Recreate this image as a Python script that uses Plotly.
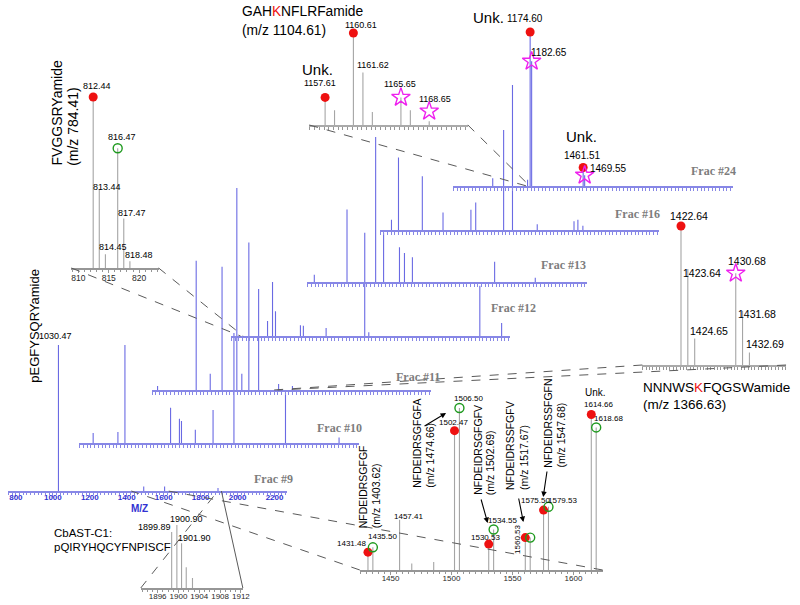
import plotly.graph_objects as go

W, H = 800, 605
OFF = 0
FW, FH = W - OFF, H - OFF

# ---------------- data: stacked spectra (m/z, relative intensity %) ----------------
frac9_mz = [1030.47, 1492, 1605, 1894]
frac9_int = [100, 3, 3, 2]
frac10_mz = [832, 966, 1004, 1251, 1299, 1310, 1385, 1481, 1594, 1873, 2163]
frac10_int = [9, 10, 89, 32, 22, 20, 12, 30, 100, 46, 5]
frac11_mz = [789, 998, 1074, 1138, 1218, 1245, 1283, 1336, 1444, 1519]
frac11_int = [2, 64, 8, 61, 100, 8, 73, 50, 3, 2]
frac12_mz = [955, 982, 998, 1133, 1149, 1272, 1481, 1503, 2104, 2222]
frac12_int = [28, 100, 46, 20, 19, 15, 98, 7, 93, 24]
frac13_mz = [795, 972, 1068, 1127, 1170, 1256, 1283, 1326, 1771, 1991]
frac13_int = [5, 50, 34, 100, 34, 24, 20, 17, 14, 3]
frac16_mz = [821, 859, 988, 1100, 1251, 1277, 1428, 1476, 1610, 1809, 1830, 1857]
frac16_int = [7, 50, 37, 12, 14, 19, 69, 100, 4, 6, 7, 3]
frac24_mz = [972, 1160.61, 1174.60, 1182.65, 1461.51, 1469.55]
frac24_int = [5, 4, 100, 81, 12, 7]
frac_names = ["Frac #9", "Frac #10", "Frac #11", "Frac #12", "Frac #13", "Frac #16", "Frac #24"]
frac_ticks = [800, 1000, 1200, 1400, 1600, 1800, 2000, 2200]

# ---------------- data: zoomed insets ----------------
fvgg_mz = [812.44, 813.44, 814.45, 816.47, 817.47, 818.48]
fvgg_int = [100, 46, 8, 70, 29, 4]
fvgg_red = [812.44]
fvgg_red_int = [100]
fvgg_green = [816.47]
fvgg_green_int = [70]

gah_mz = [1157.61, 1158.61, 1160.61, 1161.62, 1162.62, 1165.65, 1166.65, 1168.65]
gah_int = [30, 16, 100, 57, 14, 30, 16, 4]
gah_red = [1157.61, 1160.61]
gah_red_int = [30, 100]
gah_star = [1165.65, 1168.65]
gah_star_int = [30, 15]

f24_red = [1174.60, 1461.51]
f24_red_int = [100, 12]
f24_star = [1182.65, 1469.55]
f24_star_int = [81, 7]

nnn_mz = [1422.64, 1423.64, 1424.65, 1430.68, 1431.68, 1432.69]
nnn_int = [100, 69, 19, 66, 39, 9]
nnn_red = [1422.64]
nnn_red_int = [100]
nnn_star = [1430.68]
nnn_star_int = [66]

nfd_mz = [1431.48, 1435.50, 1457.41, 1467.4, 1485.4, 1502.47, 1506.50, 1530.53, 1534.55,
          1560.53, 1564.55, 1575.50, 1579.53, 1614.66, 1618.68]
nfd_int = [11, 14, 31, 4, 5, 86, 100, 16, 25, 20, 20, 37, 39, 96, 88]
nfd_red = [1431.48, 1502.47, 1530.53, 1560.53, 1575.50, 1614.66]
nfd_red_int = [11, 86, 16, 20, 37, 96]
nfd_green = [1435.50, 1506.50, 1534.55, 1564.55, 1579.53, 1618.68]
nfd_green_int = [14, 100, 25, 20, 39, 88]
nfd_ticks = [1450, 1500, 1550, 1600]

cb_mz = [1898.7, 1899.7, 1900.6, 1901.5, 1902.7]
cb_int = [89, 100, 71, 33, 16]
cb_ticks = [1896, 1900, 1904, 1908, 1912]
fvgg_ticks = [810, 815, 820]

# ---------------- layout geometry (reference pixels) ----------------
FR = (757, 2270)
PANELS = {
    "f9": (8, 290, 491, 345) + FR,
    "f10": (80, 362, 443, 333) + FR,
    "f11": (153, 435, 390, 188) + FR,
    "f12": (233, 515, 336, 282) + FR,
    "f13": (310, 592, 282, 137) + FR,
    "f16": (383, 665, 230, 85) + FR,
    "f24": (457, 739, 186, 32) + FR,
    "fvgg": (72, 160, 268, 97, 808.85, 823.2),
    "gah": (312, 472, 125, 33, 1155.93, 1172.75),
    "nnn": (648, 793, 365, 226, 1416.96, 1438.07),
    "nfd": (363, 608, 570, 408, 1424.8, 1624.0),
    "cb": (142, 245, 588, 525, 1892.76, 1912.38),
}
ORDER = list(PANELS.keys())
AX = {k: i + 1 for i, k in enumerate(ORDER)}

FONT = "Liberation Sans, Arial, sans-serif"
SPEC_BLUE = "rgba(80,80,222,0.85)"
AXIS_BLUE = "rgb(135,135,230)"
GRAY_SPEC = "rgb(165,165,165)"
GRAY_AXIS = "rgb(150,150,150)"
RED = "#ee1111"
GREEN = "#1f9a1f"
MAGENTA = "#ee22ee"


def xr(k):
    i = AX[k]
    return "x" if i == 1 else f"x{i}"


def yr(k):
    i = AX[k]
    return "y" if i == 1 else f"y{i}"


def to_px(k, mz, val=0.0):
    xl, xrt, yb, yt, lo, hi = PANELS[k]
    return xl + (mz - lo) / (hi - lo) * (xrt - xl), yb - val / 100.0 * (yb - yt)


def px2paper(x, y):
    return (x - OFF) / FW, 1 - (y - OFF) / FH


def sticks(mz, inten):
    xs, ys = [], []
    for m, v in zip(mz, inten):
        xs += [m, m, None]
        ys += [0, v, None]
    return xs, ys


fig = go.Figure()
layout_axes = {}
for k in ORDER:
    xl, xrt, yb, yt, lo, hi = PANELS[k]
    i = AX[k]
    xname = "xaxis" if i == 1 else f"xaxis{i}"
    yname = "yaxis" if i == 1 else f"yaxis{i}"
    frac = k.startswith("f") and k[1:].isdigit()
    (dx0, dyb), (dx1, dyt) = px2paper(xl, yb), px2paper(xrt, yt)
    xa = dict(domain=[dx0, dx1], range=[lo, hi], anchor=yr(k), showgrid=False,
              zeroline=False, showline=True, ticks="outside", fixedrange=True,
              linecolor=AXIS_BLUE if frac else GRAY_AXIS,
              tickcolor=AXIS_BLUE if frac else GRAY_AXIS,
              linewidth=1.6, ticklen=3, showticklabels=False)
    if frac:
        xa.update(tickmode="linear", tick0=0, dtick=20)
    layout_axes[xname] = xa
    layout_axes[yname] = dict(domain=[dyb, dyt], range=[0, 100], anchor=xr(k),
                              visible=False, fixedrange=True)

# special tick labels
layout_axes["xaxis"].update(tickmode="array", tickvals=frac_ticks, ticklen=4, showticklabels=True,
                            ticklabelstandoff=-6,
                            tickfont=dict(family=FONT, size=8, color="rgb(50,50,210)", weight="bold"),
                            minor=dict(tickmode="linear", tick0=0, dtick=20, ticks="outside",
                                       ticklen=2.5, tickcolor=AXIS_BLUE))
for k, tv, minor_dt, fs, so in [("fvgg", fvgg_ticks, 1, 8.5, -2), ("nfd", nfd_ticks, 5, 8, -3),
                                ("cb", cb_ticks, 1, 8, -3)]:
    layout_axes["xaxis" + str(AX[k])].update(
        tickmode="array", tickvals=tv, showticklabels=True, ticklen=3, ticklabelstandoff=so,
        tickfont=dict(family=FONT, size=fs, color="rgb(40,40,40)"),
        minor=dict(tickmode="linear", tick0=0, dtick=minor_dt, ticks="outside", ticklen=2,
                   tickcolor=GRAY_AXIS))
for k in ["gah", "nnn"]:
    layout_axes["xaxis" + str(AX[k])].update(tickmode="linear", tick0=0, dtick=0.5,
                                             linewidth=2.4, linecolor="rgb(170,170,170)")

# ---------------- spectra traces ----------------
spectra = [("f9", frac9_mz, frac9_int), ("f10", frac10_mz, frac10_int), ("f11", frac11_mz, frac11_int),
           ("f12", frac12_mz, frac12_int), ("f13", frac13_mz, frac13_int), ("f16", frac16_mz, frac16_int),
           ("f24", frac24_mz, frac24_int)]
for k, mz, it in spectra:
    xs, ys = sticks(mz, it)
    fig.add_trace(go.Scatter(x=xs, y=ys, xaxis=xr(k), yaxis=yr(k), mode="lines",
                             line=dict(color=SPEC_BLUE, width=1.1), hoverinfo="skip"))

insets = [("fvgg", fvgg_mz, fvgg_int), ("gah", gah_mz, gah_int), ("nnn", nnn_mz, nnn_int),
          ("nfd", nfd_mz, nfd_int), ("cb", cb_mz, cb_int)]
for k, mz, it in insets:
    xs, ys = sticks(mz, it)
    fig.add_trace(go.Scatter(x=xs, y=ys, xaxis=xr(k), yaxis=yr(k), mode="lines",
                             line=dict(color=GRAY_SPEC, width=1.1), hoverinfo="skip"))


def markers(k, mz, it, kind):
    if kind == "red":
        mk = dict(symbol="circle", size=9, color=RED, line=dict(width=0))
    elif kind == "green":
        mk = dict(symbol="circle-open", size=9, color=GREEN, line=dict(width=1.4, color=GREEN))
    else:
        mk = dict(symbol="star-open", size=14, color=MAGENTA, line=dict(width=1.4, color=MAGENTA))
    fig.add_trace(go.Scatter(x=mz, y=it, xaxis=xr(k), yaxis=yr(k), mode="markers", marker=mk,
                             cliponaxis=False, hoverinfo="skip"))


markers("fvgg", fvgg_red, fvgg_red_int, "red")
markers("fvgg", fvgg_green, fvgg_green_int, "green")
markers("gah", gah_red, gah_red_int, "red")
markers("gah", gah_star, gah_star_int, "star")
markers("f24", f24_red, f24_red_int, "red")
markers("f24", f24_star, f24_star_int, "star")
markers("nnn", nnn_red, nnn_red_int, "red")
markers("nnn", nnn_star, nnn_star_int, "star")
markers("nfd", nfd_red, nfd_red_int, "red")
markers("nfd", nfd_green, nfd_green_int, "green")

# ---------------- connector lines ----------------
shapes = []


def connector(k_inset, k_frac):
    xl, xrt, yb, yt, lo, hi = PANELS[k_inset]
    for mz_end in (lo, hi):
        x0, y0 = to_px(k_inset, mz_end)
        x1, y1 = to_px(k_frac, mz_end)
        a = px2paper(x0, y0)
        b = px2paper(x1, y1)
        d = "solid" if (k_inset == "cb" and mz_end == hi) else "dash"
        shapes.append(dict(type="line", xref="paper", yref="paper", x0=a[0], y0=a[1], x1=b[0], y1=b[1],
                           line=dict(color="rgb(90,90,90)", width=1, dash=d)))


connector("fvgg", "f12")
connector("gah", "f24")
connector("nnn", "f11")
connector("nfd", "f9")
connector("cb", "f9")

# ---------------- annotations ----------------
ann = []


def plabel(k, mz, val, text, dx, dy, size=9, angle=0, color="black"):
    ann.append(dict(xref=xr(k), yref=yr(k), x=mz, y=val, text=text, showarrow=False,
                    xshift=dx, yshift=dy, textangle=angle,
                    font=dict(family=FONT, size=size, color=color)))


def ptext(x, y, text, size, xanchor="center", yanchor="middle", angle=0, color="black", family=FONT,
          weight="normal"):
    px, py = px2paper(x, y)
    ann.append(dict(xref="paper", yref="paper", x=px, y=py, text=text, showarrow=False,
                    xanchor=xanchor, yanchor=yanchor, textangle=angle,
                    font=dict(family=family, size=size, color=color, weight=weight)))


# frac 9
plabel("f9", 1030.47, 100, "1030.47", -3, 9, 9)
# FVGG inset
for mz, v, dx, dy in [(812.44, 100, 4, 11), (813.44, 46, 8, 2), (814.45, 8, 8, 7),
                      (816.47, 70, 4, 11), (817.47, 29, 8, 5), (818.48, 4, 9, 6)]:
    plabel("fvgg", mz, v, f"{mz:.2f}", dx, dy, 9)
# GAH inset
plabel("gah", 1157.61, 30, "Unk.", -8, 28, 15)
for mz, v, dx, dy in [(1157.61, 30, -5, 14), (1160.61, 100, 8, 8), (1161.62, 57, 10, 8),
                      (1165.65, 30, -1, 13), (1168.65, 15, 6, 12)]:
    plabel("gah", mz, v, f"{mz:.2f}", dx, dy, 9)
# frac 24 labels
plabel("f24", 1174.60, 100, "1174.60", -5, 13, 10)
plabel("f24", 1174.60, 100, "Unk.", -42, 14, 15)
plabel("f24", 1182.65, 81, "1182.65", 17, 9, 10)
plabel("f24", 1461.51, 12, "Unk.", -2, 31, 15)
plabel("f24", 1461.51, 12, "1461.51", -1, 12, 10)
plabel("f24", 1469.55, 7, "1469.55", 24, 7, 10)
# NNN inset
for mz, v, dx, dy in [(1422.64, 100, 8, 10), (1423.64, 69, 14, -4), (1424.65, 19, 14, 8),
                      (1430.68, 66, 11, 12), (1431.68, 39, 14, -3), (1432.69, 9, 16, 8)]:
    plabel("nnn", mz, v, f"{mz:.2f}", dx, dy, 10.5)
# NFD inset
for mz, v, dx, dy in [(1431.48, 11, -16, 9), (1435.50, 14, 10, 11), (1457.41, 31, 9, 3),
                      (1502.47, 86, -1, 8), (1506.50, 100, 9, 9), (1530.53, 16, -3, 7),
                      (1534.55, 25, 9, 9), (1575.50, 37, -8, 10), (1579.53, 39, 14, 6),
                      (1614.66, 96, 7, 10), (1618.68, 88, 12, 9)]:
    plabel("nfd", mz, v, f"{mz:.2f}", dx, dy, 8)
plabel("nfd", 1560.53, 20, "1560.53", -8, -2, 8, angle=-90)
plabel("nfd", 1614.66, 96, "Unk.", 4, 22, 10)
# CbAST inset
plabel("cb", 1898.7, 89, "1899.89", -17, 5, 9)
plabel("cb", 1899.7, 100, "1900.90", 10, 6, 9)
plabel("cb", 1900.6, 71, "1901.90", 13, 5, 9)

# peptide names
K = '<span style="color:#ee1111">K</span>'
ptext(242, 12, f"GAH{K}NFLRFamide", 13.8, xanchor="left")
ptext(242, 30, "(m/z 1104.61)", 13.8, xanchor="left")
ptext(647, 387, f"NNNWS{K}FQGSWamide", 13.5, xanchor="left")
ptext(647, 404, "(m/z 1366.63)", 13.5, xanchor="left")
ptext(52, 533, "CbAST-C1:", 11.5, xanchor="left")
ptext(52, 547, "pQIRYHQCYFNPISCF", 11.5, xanchor="left")
ptext(58, 167, "FVGGSRYamide", 14, yanchor="bottom", angle=-90)
ptext(73, 168, "(m/z 784.41)", 14, yanchor="bottom", angle=-90)
ptext(34, 385, "pEGFYSQRYamide", 13, yanchor="bottom", angle=-90)
for x1, x2, yb, name, mzt in [(366, 379, 530, "NFDEIDRSGFGF", "(m/z 1403.62)"),
                              (420, 433, 490, "NFDEIDRSGFGFA", "(m/z 1474.66)"),
                              (482, 495, 497, "NFDEIDRSGFGFV", "(m/z 1502.69)"),
                              (514, 528, 492, "NFDEIDRSSFGFV", "(m/z 1517.67)"),
                              (552, 565, 470, "NFDEIDRSSFGFN", "(m/z 1547.68)")]:
    ptext(x1, yb, name, 10.5, yanchor="bottom", angle=-90)
    ptext(x2, yb, mzt, 10.5, yanchor="bottom", angle=-90)

# arrows
for hx, hy, ax, ay in [(450, 413, -23, 14), (492, 523, -7, -25), (528, 522, -5, -25), (548, 497, 4, -27)]:
    px, py = px2paper(hx, hy)
    ann.append(dict(xref="paper", yref="paper", x=px, y=py, ax=ax, ay=ay, text="", showarrow=True,
                    arrowhead=2, arrowsize=1, arrowwidth=1.1, arrowcolor="black"))

# axis title & fraction labels
ptext(141, 508, "M/Z", 10, color="rgb(50,50,210)", weight="bold")
for name, (x, y) in zip(frac_names, [(276, 479), (342, 428), (422, 377), (518, 308),
                                     (568, 265), (643, 214), (720, 171)]):
    ptext(x, y, name, 12, color="rgb(125,125,125)", family="Liberation Serif, serif", weight="bold")

fig.update_layout(width=FW, height=FH, margin=dict(l=0, r=0, t=0, b=0),
                  paper_bgcolor="white", plot_bgcolor="rgba(0,0,0,0)", showlegend=False,
                  shapes=shapes, annotations=ann, **layout_axes)

# remove the browser's default 8px page margin so the 800x605 figure fills the window exactly
fig.write_html("out.html", config={"displayModeBar": False},
               post_script="document.body.style.margin='0px';")
